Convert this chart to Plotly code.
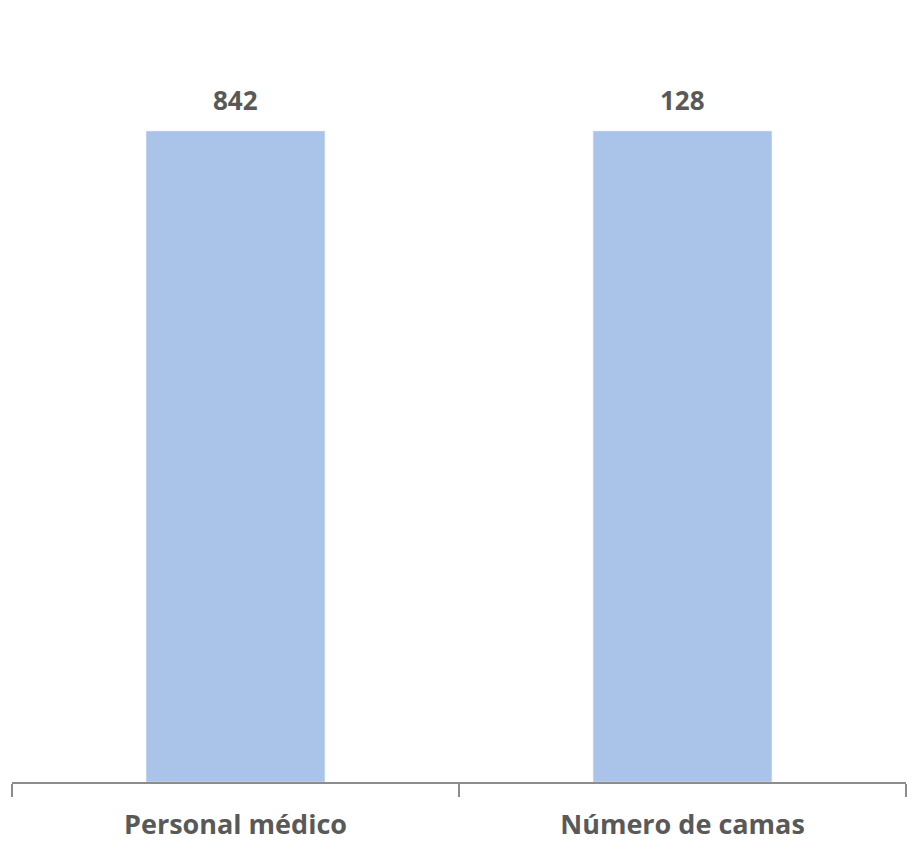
import plotly.graph_objects as go

categories = ["Personal médico", "Número de camas"]
values = [842, 128]
value_labels = ["842", "128"]

bar_color = "#A9C4E8"
text_color = "#595959"
font_family = "Open Sans"

# each bar drawn on its own value axis (original chart shows both at equal height)
fill = 0.9017

fig = go.Figure()
fig.add_trace(go.Bar(x=[categories[0]], y=[values[0]], marker_color=bar_color,
                     yaxis="y", width=0.4, hoverinfo="x+y"))
fig.add_trace(go.Bar(x=[categories[1]], y=[values[1]], marker_color=bar_color,
                     yaxis="y2", width=0.4, hoverinfo="x+y"))

for i, (c, v, t) in enumerate(zip(categories, values, value_labels)):
    fig.add_annotation(x=c, y=v, yref="y" if i == 0 else "y2", text=f"<b>{t}</b>",
                       showarrow=False, yanchor="bottom", yshift=11,
                       font=dict(family=font_family, size=26, color=text_color))

fig.update_layout(
    width=912, height=854,
    margin=dict(l=4, r=14, t=52, b=80),
    paper_bgcolor="#FFFFFF", plot_bgcolor="#FFFFFF",
    barmode="overlay", showlegend=False,
    xaxis=dict(type="category", categoryorder="array", categoryarray=categories,
               showline=True, linecolor="#8C8C8C", linewidth=2,
               ticks="outside", tickson="boundaries", ticklen=13, tickcolor="#8C8C8C", tickwidth=2,
               showgrid=False, zeroline=False, automargin=False,
               ticklabelstandoff=18,
               tickfont=dict(family=font_family, size=27, color=text_color),
               tickprefix="<b>", ticksuffix="</b>"),
    yaxis=dict(range=[0, values[0] / fill], visible=False, showgrid=False),
    yaxis2=dict(range=[0, values[1] / fill], visible=False, showgrid=False,
                overlaying="y", side="right"),
)

fig.write_html("out.html")
